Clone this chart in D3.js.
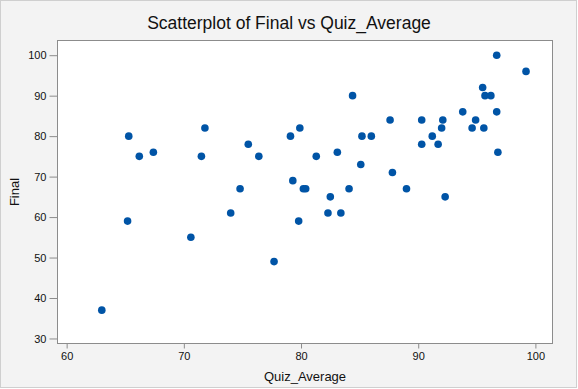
<!DOCTYPE html>
<html lang="en">
<head>
    <meta charset="UTF-8">
    <script src="https://cdn.jsdelivr.net/npm/d3@7"></script>
    <title>scatterplot</title>
    <style>
        body { margin: 0; background: #fff; }
        text { font-family: "Liberation Sans", Arial, Helvetica, sans-serif; fill: #111; }
        .tick line { stroke: #8c8c8c; }
    </style>
</head>
<body>
    <svg width="578" height="389"></svg>
    <script>
        // Quiz_Average (x) and Final (y)
        var quizAverage = [63.0, 65.3, 65.2, 66.2, 67.4, 70.6, 71.5, 71.8, 74.0, 74.8,
                           75.5, 76.4, 77.7, 79.1, 79.3, 79.8, 79.9, 80.2, 80.4, 81.3,
                           82.3, 82.5, 83.1, 83.4, 84.1, 84.4, 85.1, 85.2, 86.0, 87.6,
                           87.8, 89.0, 90.3, 90.3, 91.2, 91.7, 92.0, 92.1, 92.3, 93.8,
                           94.9, 94.6, 95.6, 95.5, 95.7, 96.2, 96.7, 96.7, 96.8, 99.2];
        var finalScore = [37, 80, 59, 75, 76, 55, 75, 82, 61, 67,
                          78, 75, 49, 80, 69, 59, 82, 67, 67, 75,
                          61, 65, 76, 61, 67, 90, 73, 80, 80, 84,
                          71, 67, 84, 78, 80, 78, 82, 84, 65, 86,
                          84, 82, 82, 92, 90, 90, 100, 86, 76, 96];
        var xTicks = [60, 70, 80, 90, 100];
        var yTicks = [30, 40, 50, 60, 70, 80, 90, 100];

        var svg = d3.select("svg"),
            width = +svg.attr("width"),
            height = +svg.attr("height");

        var plot = {left: 57.5, right: 552.5, top: 40.5, bottom: 343.5};

        var x = d3.scaleLinear()
                  .domain([59.22, 101.46])
                  .range([plot.left, plot.right]);

        var y = d3.scaleLinear()
                  .domain([28.76, 103.63])
                  .range([plot.bottom, plot.top]);

        // outer panel
        svg.append("rect")
           .attr("x", 0.5).attr("y", 0.5)
           .attr("width", width - 2).attr("height", height - 2)
           .attr("fill", "#f3f3f3")
           .attr("stroke", "#cfcfcf");

        svg.append("rect")
           .attr("x", plot.left).attr("y", plot.top)
           .attr("width", plot.right - plot.left)
           .attr("height", plot.bottom - plot.top)
           .attr("fill", "#fff")
           .attr("stroke", "#8c8c8c");

        var xAxis = svg.append("g")
                       .attr("transform", "translate(0," + plot.bottom + ")")
                       .call(d3.axisBottom(x).tickValues(xTicks).tickSize(5).tickPadding(4).tickSizeOuter(0));
        xAxis.select(".domain").remove();
        xAxis.selectAll("text").style("font-size", "11px").style("fill", "#111");

        var yAxis = svg.append("g")
                       .attr("transform", "translate(" + plot.left + ",0)")
                       .call(d3.axisLeft(y).tickValues(yTicks).tickSize(8).tickPadding(3).tickSizeOuter(0));
        yAxis.select(".domain").remove();
        yAxis.selectAll("text").style("font-size", "11px").style("fill", "#111");

        svg.append("g")
           .selectAll("circle")
           .data(quizAverage)
           .enter().append("circle")
           .attr("cx", function(d) { return x(d); })
           .attr("cy", function(d, i) { return y(finalScore[i]); })
           .attr("r", 3.8)
           .attr("fill", "#0054a6");

        svg.append("text")
           .style("text-anchor", "middle")
           .style("font-size", "17.5px")
           .attr("x", 289)
           .attr("y", 29)
           .text("Scatterplot of Final vs Quiz_Average");

        svg.append("text")
           .style("text-anchor", "middle")
           .style("font-size", "13px")
           .attr("x", (plot.left + plot.right) / 2)
           .attr("y", 381)
           .text("Quiz_Average");

        svg.append("text")
           .style("text-anchor", "middle")
           .style("font-size", "13px")
           .attr("transform", "translate(19," + (plot.top + plot.bottom) / 2 + ") rotate(-90)")
           .text("Final");
    </script>
</body>
</html>
